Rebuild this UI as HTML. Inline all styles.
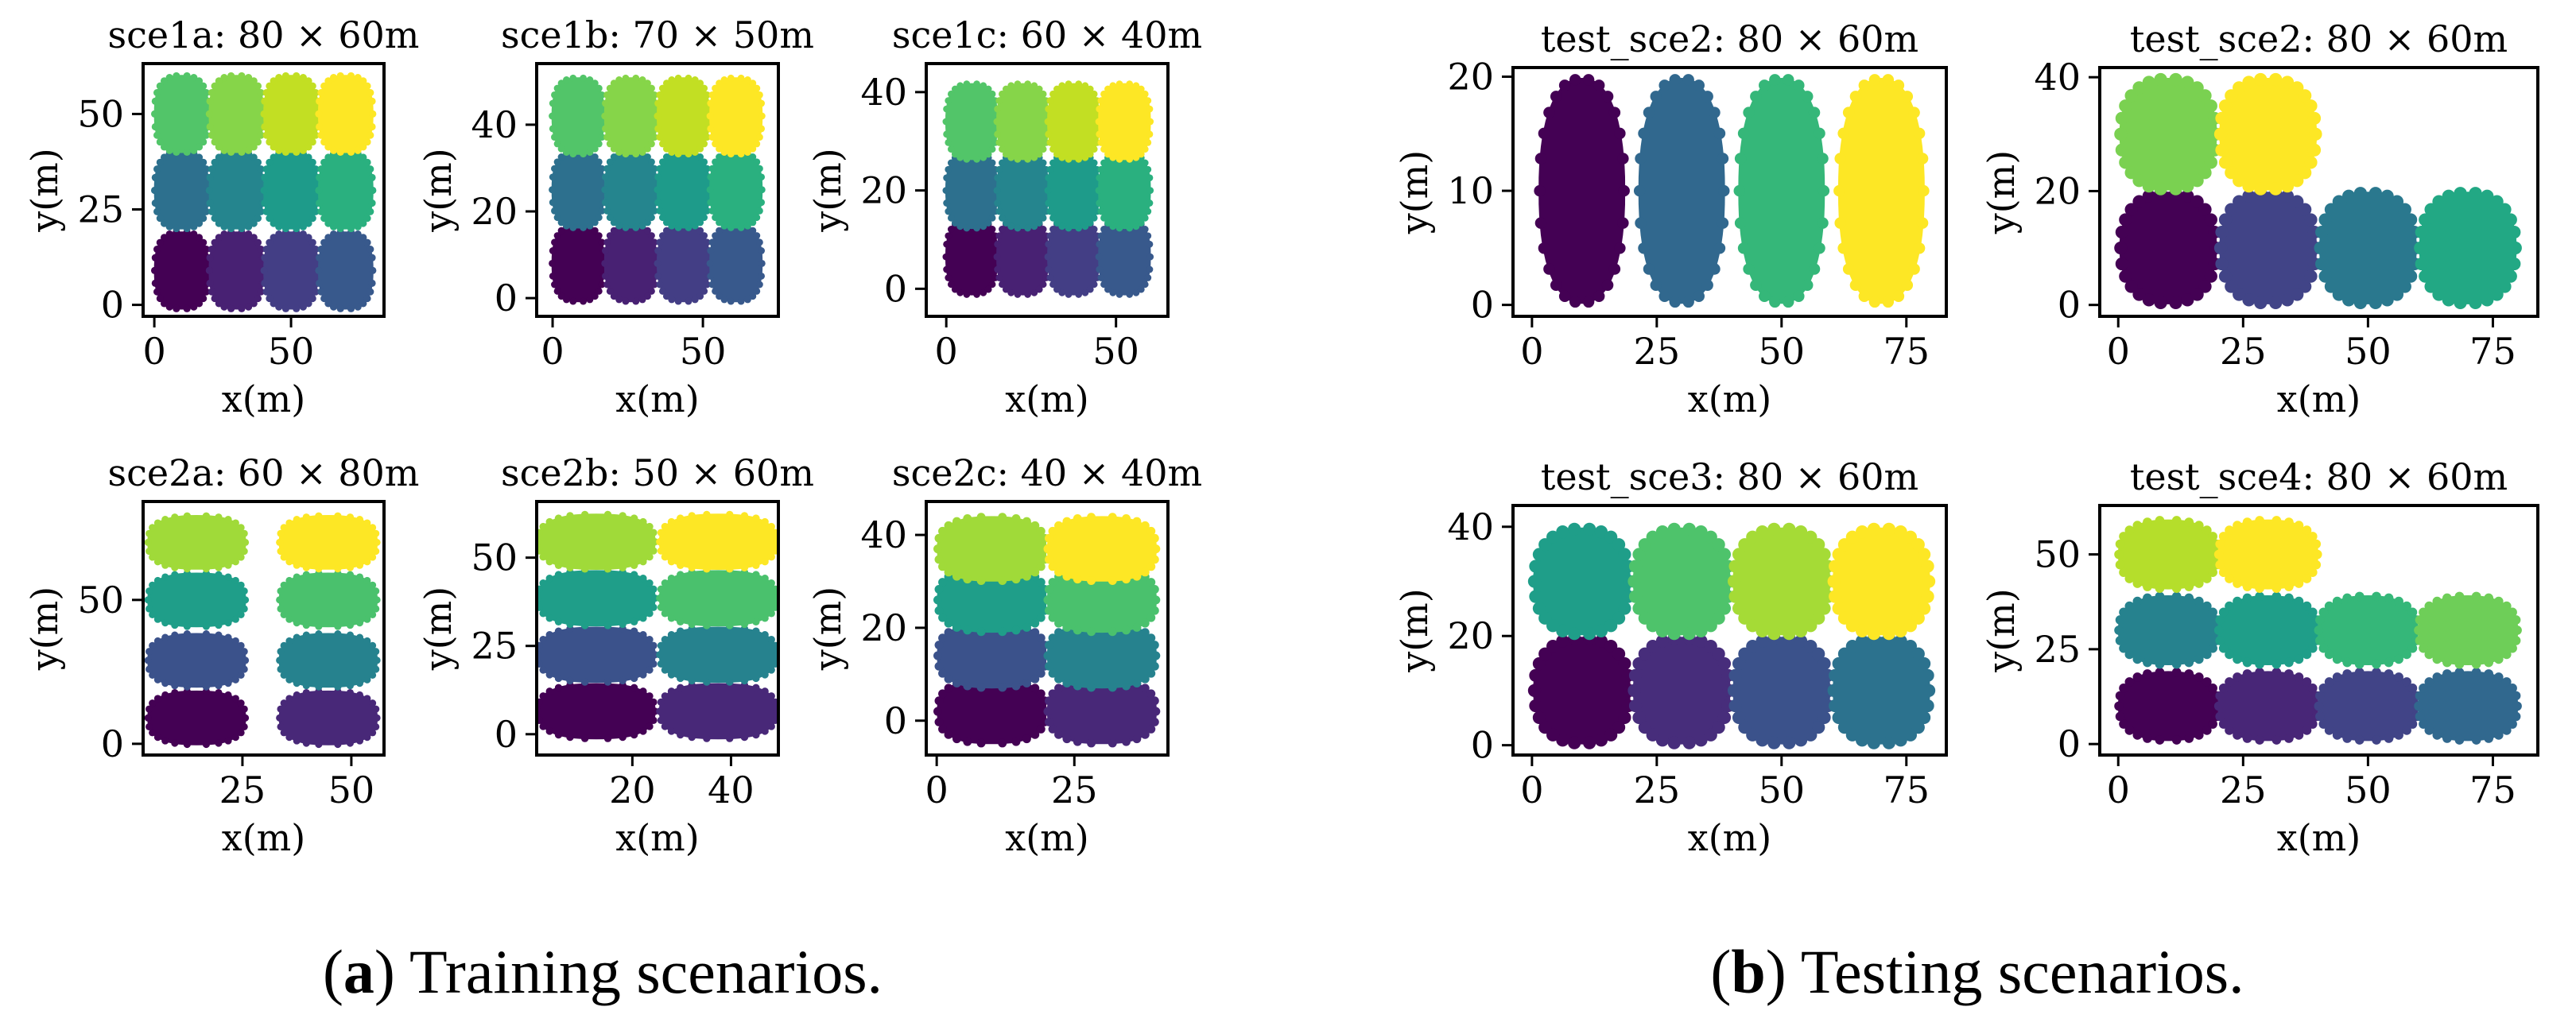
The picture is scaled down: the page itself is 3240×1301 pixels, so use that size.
<!DOCTYPE html>
<html><head><meta charset="utf-8"><style>
html,body{margin:0;padding:0;background:#fff;}
svg text{font-family:"DejaVu Serif","Liberation Serif",serif;fill:#000;}
</style></head><body>
<svg id="fig" xmlns="http://www.w3.org/2000/svg" width="3240" height="1296" viewBox="0 0 3240 1296">
<rect width="3240" height="1296" fill="#fff"/>
<text x="758" y="1249" font-size="78" text-anchor="middle" style="font-family:'Liberation Serif',serif">(<tspan font-weight="bold">a</tspan>) Training scenarios.</text>
<text x="2487" y="1249" font-size="78" text-anchor="middle" style="font-family:'Liberation Serif',serif">(<tspan font-weight="bold">b</tspan>) Testing scenarios.</text>
</svg>
<script>
// ---- data (cluster centres in metres, colours) ----
const sce1aX=[10,30,50,70,10,30,50,70,10,30,50,70];
const sce1aY=[9,9,9,9,30,30,30,30,50,50,50,50];
const sce1aC=["#440154","#482173","#433e85","#38598c","#2d708e","#25858e","#1e9b8a","#2ab07f","#52c569","#86d549","#c2df23","#fde725"];
const sce1bX=[8.5,26,43.5,61,8.5,26,43.5,61,8.5,26,43.5,61];
const sce1bY=[8,8,8,8,25,25,25,25,42,42,42,42];
const sce1bC=sce1aC;
const sce1cX=[7.5,22.5,37.5,52.5,7.5,22.5,37.5,52.5,7.5,22.5,37.5,52.5];
const sce1cY=[6.5,6.5,6.5,6.5,20,20,20,20,34,34,34,34];
const sce1cC=sce1aC;
const sce2aX=[14.5,44.7,14.5,44.7,14.5,44.7,14.5,44.7];
const sce2aY=[9,9,29,29,50,50,70,70];
const sce2aC=["#440154","#482878","#3b528b","#26828e","#1f9e89","#4ac16d","#a0da39","#fde725"];
const sce2bX=[12.7,37.4,12.7,37.4,12.7,37.4,12.7,37.4];
const sce2bY=[6.5,6.5,22.5,22.5,38.5,38.5,54.5,54.5];
const sce2bC=sce2aC;
const sce2cX=[10,30,10,30,10,30,10,30];
const sce2cY=[2,2,14,14,26,26,37,37];
const sce2cC=sce2aC;
const t2aX=[10,30,50,70];
const t2aY=[10,10,10,10];
const t2aC=["#440154","#31688e","#35b779","#fde725"];
const t2bX=[10,30,50,70,10,30];
const t2bY=[10,10,10,10,30,30];
const t2bC=["#440154","#414487","#2a788e","#22a884","#7ad151","#fde725"];
const t3X=[10,30,50,70,10,30,50,70];
const t3Y=[10,10,10,10,30,30,30,30];
const t3C=["#440154","#472d7b","#3b528b","#2c728e","#1f9e89","#4ec36b","#a5db36","#fde725"];
const t4X=[10,30,50,70,10,30,50,70,10,30];
const t4Y=[10,10,10,10,30,30,30,30,50,50];
const t4C=["#440154","#482677","#414487","#31688e","#26828e","#1f9e89","#35b779","#6ece58","#b5de2b","#fde725"];
const ticks1a_x=[0,50], ticks1a_y=[0,25,50];
const ticks1b_x=[0,50], ticks1b_y=[0,20,40];
const ticks1c_x=[0,50], ticks1c_y=[0,20,40];
const ticks2a_x=[25,50], ticks2a_y=[0,50];
const ticks2b_x=[20,40], ticks2b_y=[0,25,50];
const ticks2c_x=[0,25], ticks2c_y=[0,20,40];
const ticksT_x=[0,25,50,75];
const ticksT2a_y=[0,10,20], ticksT2b_y=[0,20,40], ticksT3_y=[0,20,40], ticksT4_y=[0,25,50];

const panels=[
 {n:"sce1a",t:"sce1a: 80 × 60m",L:180,R:483,T:80,B:398,xd:[-4.1,84],yd:[-3,63.2],X:sce1aX,Y:sce1aY,C:sce1aC,rx:11.2,ry:11,e:2.6,tx:ticks1a_x,ty:ticks1a_y},
 {n:"sce1b",t:"sce1b: 70 × 50m",L:675,R:979,T:80,B:398,xd:[-5.3,75.1],yd:[-4.2,54.1],X:sce1bX,Y:sce1bY,C:sce1bC,rx:9.8,ry:9.6,e:2.6,tx:ticks1b_x,ty:ticks1b_y},
 {n:"sce1c",t:"sce1c: 60 × 40m",L:1165,R:1469,T:80,B:398,xd:[-5.9,65.3],yd:[-5.6,45.8],X:sce1cX,Y:sce1cY,C:sce1cC,rx:8.6,ry:8.4,e:2.6,tx:ticks1c_x,ty:ticks1c_y},
 {n:"sce2a",t:"sce2a: 60 × 80m",L:180,R:483,T:631,B:950,xd:[2.2,57.5],yd:[-3.9,84.2],X:sce2aX,Y:sce2aY,C:sce2aC,rx:12,ry:10.5,e:2.6,tx:ticks2a_x,ty:ticks2a_y},
 {n:"sce2b",t:"sce2b: 50 × 60m",L:675,R:979,T:631,B:950,xd:[0.6,49.6],yd:[-5.9,65.9],X:sce2bX,Y:sce2bY,C:sce2bC,rx:12.6,ry:8.8,e:2.6,tx:ticks2b_x,ty:ticks2b_y},
 {n:"sce2c",t:"sce2c: 40 × 40m",L:1165,R:1469,T:631,B:950,xd:[-1.9,42],yd:[-7.4,47.2],X:sce2cX,Y:sce2cY,C:sce2cC,rx:10.6,ry:7.8,e:2.6,tx:ticks2c_x,ty:ticks2c_y},
 {n:"test-sce2-a",t:"test_sce2: 80 × 60m",L:1903,R:2448,T:85,B:398,xd:[-3.8,83],yd:[-1,20.8],X:t2aX,Y:t2aY,C:t2aC,rx:9.6,ry:10.3,e:2.3,tx:ticksT_x,ty:ticksT2a_y},
 {n:"test-sce2-b",t:"test_sce2: 80 × 60m",L:2641,R:3192,T:85,B:398,xd:[-3.7,84],yd:[-2,41.7],X:t2bX,Y:t2bY,C:t2bC,rx:10.8,ry:10.8,e:2.3,tx:ticksT_x,ty:ticksT2b_y},
 {n:"test-sce3",t:"test_sce3: 80 × 60m",L:1903,R:2448,T:636,B:950,xd:[-3.8,83],yd:[-1.8,43.9],X:t3X,Y:t3Y,C:t3C,rx:10.8,ry:10.8,e:2.3,tx:ticksT_x,ty:ticksT3_y},
 {n:"test-sce4",t:"test_sce4: 80 × 60m",L:2641,R:3192,T:636,B:950,xd:[-3.7,84],yd:[-2.9,62.9],X:t4X,Y:t4Y,C:t4C,rx:10.8,ry:10.2,e:2.4,tx:ticksT_x,ty:ticksT4_y}
];
const NS="http://www.w3.org/2000/svg", svg=document.getElementById('fig');
function mk(tag,attrs,parent){const e=document.createElementNS(NS,tag);for(const k in attrs)e.setAttribute(k,attrs[k]);(parent||svg).appendChild(e);return e;}
function sup(a,ex){const c=Math.cos(a),s=Math.sin(a);return [Math.sign(c)*Math.pow(Math.abs(c),2/ex),Math.sign(s)*Math.pow(Math.abs(s),2/ex)];}
panels.forEach((p,pi)=>{
 const g=mk('g',{});
 
 
 const sx=v=>p.L+(v-p.xd[0])/(p.xd[1]-p.xd[0])*(p.R-p.L);
 const sy=v=>p.B-(v-p.yd[0])/(p.yd[1]-p.yd[0])*(p.B-p.T);
 const cid='clip'+pi;
 const cp=mk('clipPath',{id:cid},g);mk('rect',{x:p.L,y:p.T,width:p.R-p.L,height:p.B-p.T},cp);
 const dg=mk('g',{'clip-path':'url(#'+cid+')'},g);
 p.X.forEach((x,i)=>{
  const cg=mk('g',{fill:p.C[i]},dg);
  
  
  const ex=sx(x),ey=sy(p.Y[i]);
  const rxp=Math.abs(sx(x+p.rx)-ex), ryp=Math.abs(sy(p.Y[i]+p.ry)-ey);
  const br=Math.min(rxp,ryp)*0.12;
  let d='';
  for(let k=0;k<72;k++){const q=sup(k/72*Math.PI*2,p.e);
   d+=(k?'L':'M')+(ex+q[0]*(rxp-br*0.8)).toFixed(1)+' '+(ey+q[1]*(ryp-br*0.8)).toFixed(1);}
  mk('path',{d:d+'Z'},cg);
  for(let k=0;k<26;k++){const q=sup(k/26*Math.PI*2,p.e);
   mk('circle',{cx:ex+q[0]*(rxp-br),cy:ey+q[1]*(ryp-br),r:br},cg);}
 });
 mk('rect',{x:p.L,y:p.T,width:p.R-p.L,height:p.B-p.T,fill:'none',stroke:'#000','stroke-width':4},g);
 p.tx.forEach(v=>{const X=sx(v);
  mk('line',{x1:X,x2:X,y1:p.B,y2:p.B+14,stroke:'#000','stroke-width':3},g);
  const t=mk('text',{x:X,y:p.B+60,'font-size':46,'text-anchor':'middle'},g);t.textContent=v;
  
  });
 p.ty.forEach(v=>{const Y=sy(v);
  mk('line',{x1:p.L-14,x2:p.L,y1:Y,y2:Y,stroke:'#000','stroke-width':3},g);
  const t=mk('text',{x:p.L-24,y:Y+16,'font-size':46,'text-anchor':'end'},g);t.textContent=v;
  
  });
 const tt=mk('text',{x:(p.L+p.R)/2,y:p.T-20,'font-size':46,'text-anchor':'middle'},g);tt.textContent=p.t;
 
 
 const xl=mk('text',{x:(p.L+p.R)/2,y:p.B+120,'font-size':46,'text-anchor':'middle'},g);xl.textContent='x(m)';
 
 
 const yc=(p.T+p.B)/2, yx=p.L-124+16;
 const yl=mk('text',{x:yx,y:yc,'font-size':46,'text-anchor':'middle',transform:'rotate(-90 '+yx+' '+yc+')'},g);yl.textContent='y(m)';
 
 
});
</script>
</body></html>
